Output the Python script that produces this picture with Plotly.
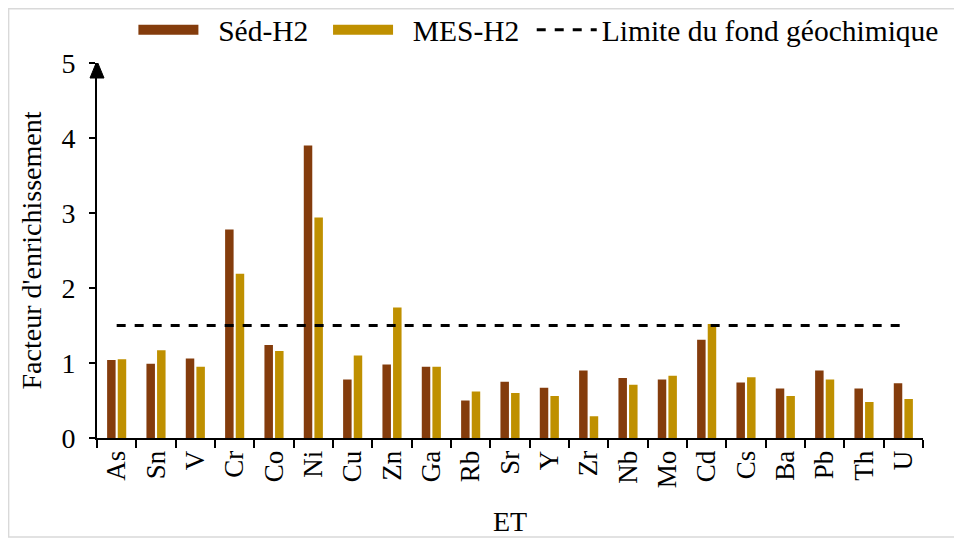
import plotly.graph_objects as go

elements = ['As', 'Sn', 'V', 'Cr', 'Co', 'Ni', 'Cu', 'Zn', 'Ga', 'Rb', 'Sr',
            'Y', 'Zr', 'Nb', 'Mo', 'Cd', 'Cs', 'Ba', 'Pb', 'Th', 'U']
sed_h2 = [1.04, 0.99, 1.06, 2.78, 1.24, 3.90, 0.78, 0.98, 0.95, 0.50, 0.75,
          0.67, 0.90, 0.80, 0.78, 1.31, 0.74, 0.66, 0.90, 0.66, 0.73]
mes_h2 = [1.05, 1.17, 0.95, 2.19, 1.16, 2.94, 1.10, 1.74, 0.95, 0.62, 0.60,
          0.56, 0.29, 0.71, 0.83, 1.52, 0.81, 0.56, 0.78, 0.48, 0.52]
limite = 1.5

font = 'Liberation Serif, Times New Roman, serif'
brun = '#843C0C'
ocre = '#BF9000'
nbsp = '\u00a0'

fig = go.Figure()
fig.add_trace(go.Bar(x=elements, y=sed_h2, name='Séd-H2', legendgroup='sed',
                     showlegend=False, marker=dict(color=brun, line=dict(width=0))))
fig.add_trace(go.Bar(x=elements, y=mes_h2, name='MES-H2', legendgroup='mes',
                     showlegend=False, marker=dict(color=ocre, line=dict(width=0))))
# entrées de légende en rectangles larges (comme Excel)
fig.add_trace(go.Scatter(x=[None], y=[None], mode='lines',
                         name=nbsp * 2 + 'Séd-H2' + nbsp * 2,
                         legendgroup='sed', line=dict(color=brun, width=15)))
fig.add_trace(go.Scatter(x=[None], y=[None], mode='lines',
                         name=nbsp * 2 + 'MES-H2' + nbsp,
                         legendgroup='mes', line=dict(color=ocre, width=15)))
fig.add_trace(go.Scatter(x=elements, y=[limite] * len(elements), mode='lines',
                         name='Limite du fond géochimique',
                         line=dict(color='black', width=3, dash='dash')))

# la page décale la figure de 8 px (marge du body) : marges compensées
fig.update_layout(
    width=962, height=541,
    plot_bgcolor='white', paper_bgcolor='white',
    margin=dict(l=89, r=47, t=55, b=111, autoexpand=False),
    font=dict(family=font, size=27, color='black'),
    barmode='group', bargap=0.46, bargroupgap=0.2,
    legend=dict(orientation='h', x=0.535, xanchor='center', y=1.088, yanchor='middle',
                font=dict(size=29.5), traceorder='normal', itemwidth=60,
                bgcolor='rgba(0,0,0,0)'),
    xaxis=dict(
        title=dict(text='ET', font=dict(size=28), standoff=24),
        tickangle=-90, tickfont=dict(size=27), automargin=False,
        showline=True, linecolor='black', linewidth=2,
        ticks='outside', tickson='boundaries', ticklen=8, tickwidth=2, tickcolor='black',
        showgrid=False,
    ),
    yaxis=dict(
        title=dict(text="Facteur d'enrichissement", font=dict(size=28), standoff=12),
        range=[0, 5], dtick=1, tickfont=dict(size=28), automargin=False,
        ticklabelstandoff=8,
        showline=True, linecolor='black', linewidth=2,
        ticks='outside', ticklen=6, tickwidth=2, tickcolor='black',
        showgrid=False, zeroline=False,
    ),
)

# flèche (triangle) en haut de l'axe des y
fig.add_shape(type='path', xref='paper', yref='y',
              xsizemode='pixel', ysizemode='pixel', xanchor=0, yanchor=5,
              path='M-7,-15 L7,-15 L0,2 Z',
              fillcolor='black', line=dict(color='black', width=1))

# cadre gris autour du graphique
fig.add_shape(type='rect', xref='paper', yref='paper',
              x0=-0.107, x1=1.041, y0=-0.264, y1=1.145,
              line=dict(color='#d9d9d9', width=1.5))

fig.write_html('out.html')
